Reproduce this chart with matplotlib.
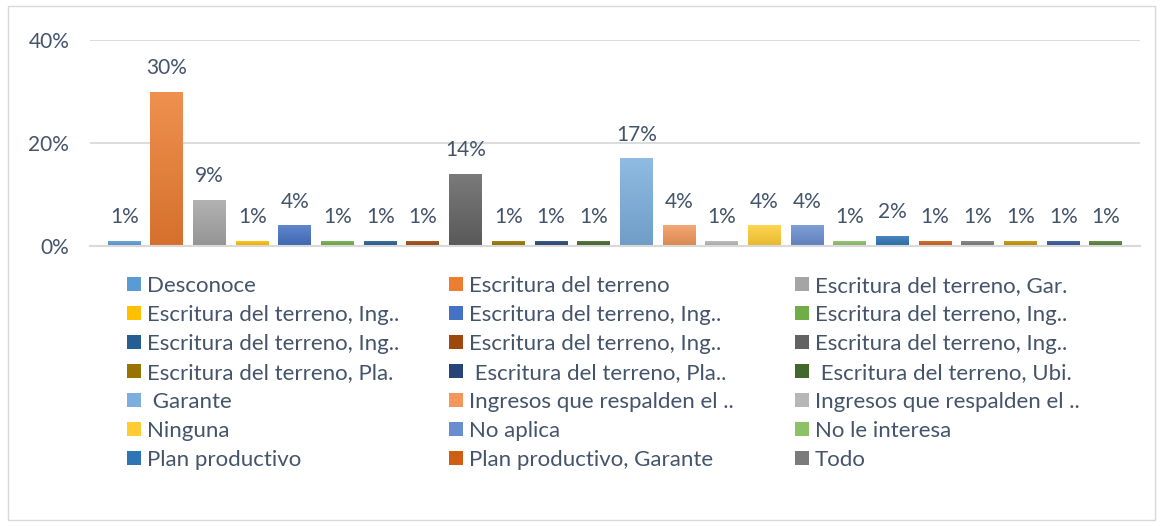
import matplotlib
matplotlib.use("Agg")
import matplotlib.pyplot as plt
import numpy as np
from matplotlib.colors import to_rgb
from matplotlib.patches import Patch, Rectangle

# bar values in percent, in plotting order
values = [1, 30, 9, 1, 4, 1, 1, 1, 14, 1, 1, 1, 17, 4, 1, 4, 4, 1, 2, 1, 1, 1, 1, 1]

# legend only lists the first 21 categories (as in the source)
labels = [
    "Desconoce", "Escritura del terreno", "Escritura del terreno, Gar.",
    "Escritura del terreno, Ing..", "Escritura del terreno, Ing..", "Escritura del terreno, Ing..",
    "Escritura del terreno, Ing..", "Escritura del terreno, Ing..", "Escritura del terreno, Ing..",
    "Escritura del terreno, Pla.", " Escritura del terreno, Pla..", " Escritura del terreno, Ubi.",
    " Garante", "Ingresos que respalden el ..", "Ingresos que respalden el ..",
    "Ninguna", "No aplica", "No le interesa",
    "Plan productivo", "Plan productivo, Garante", "Todo",
]

colors = [
    "#5B9BD5", "#ED7D31", "#A5A5A5", "#FFC000", "#4472C4", "#70AD47",
    "#255E91", "#9E480E", "#636363", "#997300", "#264478", "#43682B",
    "#7CAFDD", "#F1975A", "#B7B7B7", "#FFCD33", "#698ED0", "#8CC168",
    "#2E75B6", "#D05E12", "#7B7B7B", "#C49400", "#2F5597", "#548235",
]

TXT = "#44546A"
GRID = "#D9D9D9"
FONT = "Lato"


def gradient_bar(ax, bar, color):
    base = np.array(to_rgb(color))
    top = base + (1 - base) * 0.15
    bottom = base * 0.9
    t = np.linspace(0, 1, 64)[:, None]
    img = (top * (1 - t) + bottom * t)[:, None, :]
    x0, y0 = bar.get_x(), bar.get_y()
    w, h = bar.get_width(), bar.get_height()
    im = ax.imshow(img, extent=(x0, x0 + w, y0, y0 + h), aspect="auto",
                   origin="upper", zorder=bar.get_zorder(), interpolation="bilinear")
    im.set_clip_path(bar)


fig = plt.figure(figsize=(11.63, 5.26), dpi=100)
fig.patches.append(Rectangle((8 / 1163, 6 / 526), 1147 / 1163, 514 / 526,
                             transform=fig.transFigure, fill=False,
                             edgecolor=GRID, linewidth=1))

ax = fig.add_axes([90 / 1163, 1 - 246 / 526, 1050 / 1163, 206 / 526])
x = np.arange(len(values))
bars = ax.bar(x, values, width=0.77, color=colors, zorder=2)
for b, c in zip(bars, colors):
    gradient_bar(ax, b, c)
    b.set_facecolor("none")

for xi, v in zip(x, values):
    ax.annotate(f"{v}%", (xi, v), xytext=(0, 10), textcoords="offset points",
                ha="center", va="bottom", fontsize=15, color=TXT, family=FONT)

ax.set_xlim(-0.8, len(values) - 0.2)
ax.set_ylim(0, 40)
ax.set_yticks([0, 20, 40])
ax.set_yticklabels(["0%", "20%", "40%"], fontsize=15, color=TXT, family=FONT)
ax.tick_params(axis="y", length=0, pad=15)
ax.set_xticks([])
ax.yaxis.grid(True, color=GRID, linewidth=1.3, zorder=0)
ax.set_axisbelow(True)
for side in ["top", "right", "left"]:
    ax.spines[side].set_visible(False)
ax.spines["bottom"].set_color(GRID)
ax.spines["bottom"].set_linewidth(1.5)

handles = [Patch(facecolor=c, edgecolor="none") for c in colors[:len(labels)]]
col_x = [127, 449, 795]
for j in range(3):
    h = [handles[i * 3 + j] for i in range(7)]
    lab = [labels[i * 3 + j] for i in range(7)]
    leg = fig.legend(h, lab, loc="upper left", bbox_to_anchor=(col_x[j] / 1163, 1 - 276 / 526),
                     frameon=False, ncol=1, handlelength=0.63, handleheight=0.63,
                     handletextpad=0.27, labelspacing=0.405, borderpad=0, borderaxespad=0,
                     prop={"family": FONT, "size": 16})
    for t in leg.get_texts():
        t.set_color(TXT)

fig.savefig("out.png", dpi=100)
